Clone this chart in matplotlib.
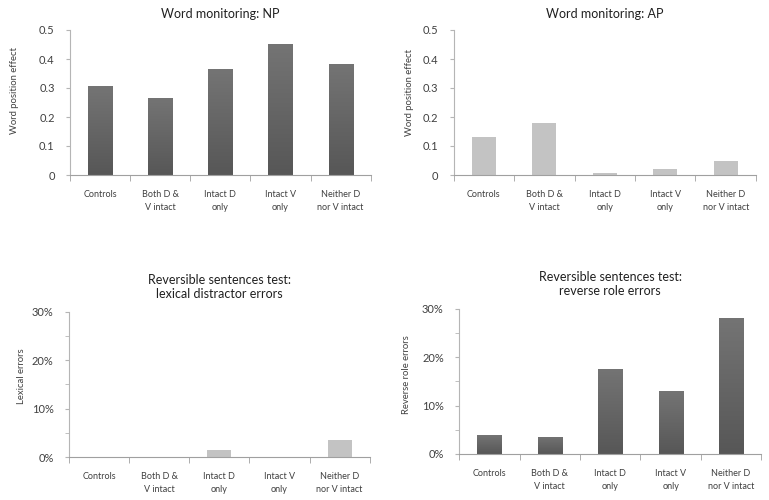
import numpy as np
import matplotlib.pyplot as plt
from matplotlib.colors import LinearSegmentedColormap
from matplotlib.ticker import MultipleLocator, PercentFormatter

plt.rcParams['font.family'] = ['Lato', 'DejaVu Sans']

groups = ["Controls", "Both D &\nV intact", "Intact D\nonly", "Intact V\nonly", "Neither D\nnor V intact"]
np_effect = [0.306, 0.266, 0.364, 0.453, 0.384]
ap_effect = [0.130, 0.181, 0.008, 0.020, 0.048]
lexical_err = [0.0, 0.0, 0.015, 0.0, 0.036]
reverse_err = [0.039, 0.036, 0.176, 0.129, 0.281]

dark = "#646464"
light = "#c3c3c3"
txt = "#404040"
grad = LinearSegmentedColormap.from_list("bargrad", ["#575757", "#747474"])

fig = plt.figure(figsize=(7.69, 5.0), dpi=100)
panels = [
    ([0.091, 0.650, 0.391, 0.290], np_effect, dark, "Word monitoring: NP", "Word position effect",
     0.5, (-0.17, 0.586), False),
    ([0.590, 0.650, 0.393, 0.290], ap_effect, light, "Word monitoring: AP", "Word position effect",
     0.5, (-0.132, 0.572), False),
    ([0.0897, 0.086, 0.391, 0.2906], lexical_err, light,
     "Reversible sentences test:\nlexical distractor errors", "Lexical errors", 0.30, (-0.143, 0.559), True),
    ([0.597, 0.092, 0.393, 0.291], reverse_err, dark,
     "Reversible sentences test:\nreverse role errors", "Reverse role errors", 0.30, (-0.159, 0.548), True),
]

x = np.arange(len(groups))
for rect, vals, col, title, ylab, ymax, lab_xy, pct in panels:
    ax = fig.add_axes(rect)
    bars = ax.bar(x, vals, width=0.4, color=col, edgecolor="none")
    if col == dark:
        # vertical gradient inside each bar, like the Excel fill
        g = np.linspace(0, 1, 64).reshape(-1, 1)
        for b in bars:
            x0, w, h = b.get_x(), b.get_width(), b.get_height()
            im = ax.imshow(g, extent=[x0, x0 + w, 0, h], origin="lower", aspect="auto",
                           cmap=grad, zorder=b.get_zorder())
            im.set_clip_path(b)
    ax.set_xlim(-0.5, len(groups) - 0.5)
    ax.set_ylim(0, ymax)
    for s in ["top", "right"]:
        ax.spines[s].set_visible(False)
    ax.spines["left"].set_color("#b5b5b5")
    ax.spines["bottom"].set_color("#a0a0a0")
    ax.set_xticks(x)
    ax.set_xticklabels(groups, fontsize=6.5, color=txt, linespacing=1.55)
    ax.set_xticks(np.arange(len(groups) + 1) - 0.5, minor=True)
    ax.tick_params(axis="x", which="major", length=0, pad=11)
    ax.tick_params(axis="x", which="minor", length=4, color="#a0a0a0")
    if pct:
        ax.yaxis.set_major_locator(MultipleLocator(0.10))
        ax.yaxis.set_minor_locator(MultipleLocator(0.05))
        ax.yaxis.set_major_formatter(PercentFormatter(xmax=1, decimals=0))
    else:
        ax.yaxis.set_major_locator(MultipleLocator(0.1))
        ax.yaxis.set_major_formatter(lambda v, p: "0" if v == 0 else f"{v:.1f}")
    ax.tick_params(axis="y", which="both", length=3, color="#b5b5b5", pad=8, labelsize=8, labelcolor=txt)
    ax.set_title(title, fontsize=9, color="#202020", pad=9 if not pct else 10)
    ax.set_ylabel(ylab, fontsize=6.8, color=txt)
    ax.yaxis.set_label_coords(*lab_xy)

fig.savefig("out.png", dpi=100)
